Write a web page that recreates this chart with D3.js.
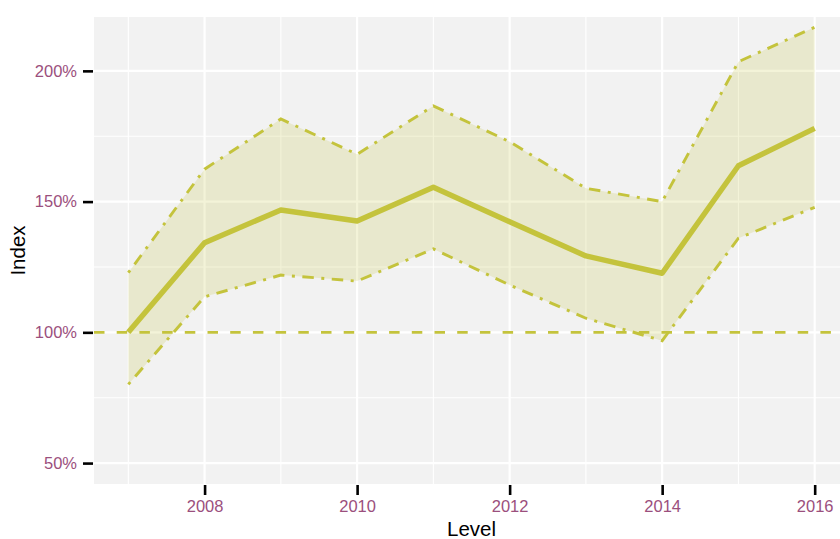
<!DOCTYPE html>
<html>
<head>
<meta charset="utf-8">
<script src="https://cdn.jsdelivr.net/npm/d3@7"></script>
<style>
  body { margin: 0; background: #fff; }
  svg { display: block; font-family: "Liberation Sans", Arial, sans-serif; }
</style>
</head>
<body>
<svg id="root"></svg>
<script>
// Index with confidence band
const years = [2007, 2008, 2009, 2010, 2011, 2012, 2013, 2014, 2015, 2016];
const meanIdx = [1.000, 1.343, 1.468, 1.426, 1.555, 1.423, 1.292, 1.226, 1.637, 1.780];
const upperIdx = [1.228, 1.624, 1.816, 1.681, 1.866, 1.729, 1.551, 1.500, 2.035, 2.167];
const lowerIdx = [0.801, 1.136, 1.219, 1.196, 1.319, 1.181, 1.054, 0.968, 1.360, 1.478];
const baseline = 1.0;
const xTicks = [2008, 2010, 2012, 2014, 2016];
const yTicks = [0.5, 1.0, 1.5, 2.0];

const W = 840, H = 539;
const panel = { left: 94, top: 17, right: 849, bottom: 484 };

const olive = "#c4c33c";
const purple = "#9b4f7d";

const svg = d3.select("#root").attr("width", W).attr("height", H);

// ggplot-ish 5% expansion on both scales
const xScale = d3.scaleLinear([2006.55, 2016.45], [panel.left, panel.right]);
const yScale = d3.scaleLinear([0.42, 2.206], [panel.bottom, panel.top]);

const data = years.map((y, i) => ({ year: y, mean: meanIdx[i], hi: upperIdx[i], lo: lowerIdx[i] }));

// Panel background
svg.append("rect")
  .attr("x", panel.left).attr("y", panel.top)
  .attr("width", panel.right - panel.left)
  .attr("height", panel.bottom - panel.top)
  .attr("fill", "#f2f2f2");

// Grid lines
const grid = svg.append("g");
const minorX = [2007, 2009, 2011, 2013, 2015];
const minorY = [0.75, 1.25, 1.75];
grid.selectAll(".mx").data(minorX).join("line")
  .attr("x1", d => xScale(d)).attr("x2", d => xScale(d))
  .attr("y1", panel.top).attr("y2", panel.bottom)
  .attr("stroke", "#fff").attr("stroke-width", 1.1);
grid.selectAll(".my").data(minorY).join("line")
  .attr("y1", d => yScale(d)).attr("y2", d => yScale(d))
  .attr("x1", panel.left).attr("x2", panel.right)
  .attr("stroke", "#fff").attr("stroke-width", 1.1);
grid.selectAll(".Mx").data(xTicks).join("line")
  .attr("x1", d => xScale(d)).attr("x2", d => xScale(d))
  .attr("y1", panel.top).attr("y2", panel.bottom)
  .attr("stroke", "#fff").attr("stroke-width", 2.2);
grid.selectAll(".My").data(yTicks).join("line")
  .attr("y1", d => yScale(d)).attr("y2", d => yScale(d))
  .attr("x1", panel.left).attr("x2", panel.right)
  .attr("stroke", "#fff").attr("stroke-width", 2.2);

// Ribbon
const area = d3.area()
  .x(d => xScale(d.year))
  .y0(d => yScale(d.lo))
  .y1(d => yScale(d.hi));
svg.append("path").datum(data)
  .attr("d", area)
  .attr("fill", olive)
  .attr("fill-opacity", 0.2);

// Ribbon edges (dot-dash)
const edge = key => d3.line().x(d => xScale(d.year)).y(d => yScale(d[key]));
["hi", "lo"].forEach(k => {
  svg.append("path").datum(data)
    .attr("d", edge(k))
    .attr("fill", "none")
    .attr("stroke", olive)
    .attr("stroke-width", 2.9)
    .attr("stroke-dasharray", "3,7.5,11.5,7.5");
});

// Reference line at 100%
svg.append("line")
  .attr("x1", panel.left).attr("x2", panel.right)
  .attr("y1", yScale(baseline)).attr("y2", yScale(baseline))
  .attr("stroke", olive)
  .attr("stroke-width", 2.9)
  .attr("stroke-dasharray", "10.5,12.2");

// Main line
svg.append("path").datum(data)
  .attr("d", edge("mean"))
  .attr("fill", "none")
  .attr("stroke", olive)
  .attr("stroke-width", 5.4)
  .attr("stroke-linejoin", "round");

// Axes
const xAxis = d3.axisBottom(xScale).tickValues(xTicks).tickFormat(d3.format("d"))
  .tickSize(10).tickPadding(5);
const yAxis = d3.axisLeft(yScale).tickValues(yTicks).tickFormat(d3.format(".0%"))
  .tickSize(10).tickPadding(6);

const gx = svg.append("g").attr("transform", `translate(0,${panel.bottom + 1})`).call(xAxis);
const gy = svg.append("g").attr("transform", `translate(${panel.left - 1},0)`).call(yAxis);
[gx, gy].forEach(g => {
  g.select(".domain").remove();
  g.selectAll(".tick line").attr("stroke", "#000").attr("stroke-width", 2.6);
  g.selectAll(".tick text").attr("fill", purple).style("font-size", "16.5px")
    .style("font-family", "'Liberation Sans', Arial, sans-serif");
});

// Axis titles
svg.append("text")
  .attr("x", (panel.left + panel.right) / 2)
  .attr("y", 536)
  .attr("text-anchor", "middle")
  .style("font-size", "20.5px")
  .attr("fill", "#000")
  .text("Level");

svg.append("text")
  .attr("transform", `translate(25,${(panel.top + panel.bottom) / 2}) rotate(-90)`)
  .attr("text-anchor", "middle")
  .style("font-size", "20.5px")
  .attr("fill", "#000")
  .text("Index");
</script>
</body>
</html>
